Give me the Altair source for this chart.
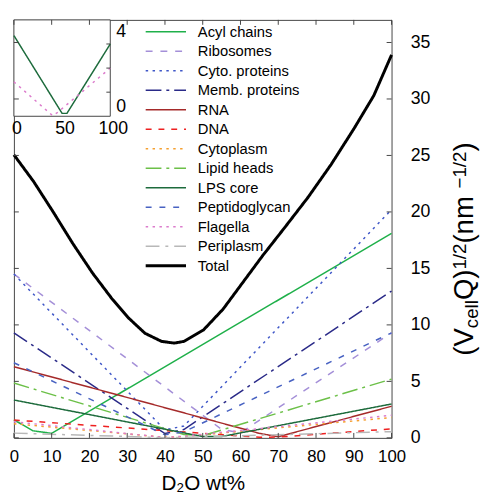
import altair as alt
import pandas as pd

W, H = 384, 425
INSET = 98
FONT = "Liberation Sans"

NAMES = ["Acyl chains", "Ribosomes", "Cyto. proteins", "Memb. proteins", "RNA", "DNA",
         "Cytoplasm", "Lipid heads", "LPS core", "Peptidoglycan", "Flagella", "Periplasm", "Total"]
COLORS = ["#1fb04a", "#a48fd8", "#3f57c8", "#2a2a88", "#a52a2a", "#ee2020",
          "#f5a030", "#6cc048", "#1d6b3c", "#4862c2", "#dc7ccc", "#b8b8b8", "#000000"]
DASHES = [[1, 0], [7, 8], [2.5, 4.5], [16, 5, 3, 5], [1, 0], [6, 7],
          [2.5, 4.5], [16, 5, 3, 5], [1, 0], [6, 8], [2.5, 4.5], [14, 6, 3, 6], [1, 0]]
WIDTHS = [1.5] * 12 + [3]

# series (D2O wt%, value)
ACYL_X, ACYL_Y = [0, 5, 10, 100], [1.6, 0.63, 0.40, 18.1]
RIBO_X, RIBO_Y = [0, 55, 60, 100], [14.5, 0.75, 0.45, 9.3]
CYTO_X, CYTO_Y = [0, 40, 45, 100], [14.5, 0.7, 1.05, 20.2]
MEMB_X, MEMB_Y = [0, 40, 45, 100], [9.3, 0.38, 0.74, 13.0]
RNA_X, RNA_Y = [0, 65, 70, 100], [6.3, 0.4, 0.1, 2.8]
DNA_X, DNA_Y = [0, 65, 70, 100], [1.58, 0.05, 0.07, 0.8]
CYTOPL_X, CYTOPL_Y = [0, 40, 45, 100], [1.25, 0.05, 0.12, 1.8]
LIPID_X, LIPID_Y = [0, 45, 50, 100], [4.85, 0.3, 0.2, 5.2]
LPS_X, LPS_Y = [0, 50, 55, 100], [3.35, 0.12, 0.12, 3.0]
PEPT_X, PEPT_Y = [0, 40, 45, 100], [6.65, 0.27, 0.53, 9.3]
FLAG_X, FLAG_Y = [0, 40, 45, 100], [1.43, 0.03, 0.15, 2.0]
PERI_X, PERI_Y = [0, 40, 45, 100], [0.42, 0.02, 0.05, 0.55]
TOTAL_X = [0, 5.2, 10.4, 15.6, 20.8, 26.0, 30.4, 34.7, 39.1, 42.5, 45, 50.2, 55.4, 60.6,
           65.8, 71.9, 77.9, 84, 90.1, 95.3, 100]
TOTAL_Y = [25.06, 22.7, 20.0, 17.2, 14.6, 12.3, 10.6, 9.26, 8.54, 8.39, 8.54, 9.55, 11.4, 13.75,
           16.1, 18.7, 21.3, 24.2, 27.4, 30.3, 33.9]

X_TICKS = list(range(0, 101, 10))
Y_TICKS = list(range(0, 36, 5))
INSET_X_LABELS = [0, 50, 100]
INSET_Y_TICKS = [1, 2, 3]

SERIES = [(ACYL_X, ACYL_Y), (RIBO_X, RIBO_Y), (CYTO_X, CYTO_Y), (MEMB_X, MEMB_Y), (RNA_X, RNA_Y),
          (DNA_X, DNA_Y), (CYTOPL_X, CYTOPL_Y), (LIPID_X, LIPID_Y), (LPS_X, LPS_Y),
          (PEPT_X, PEPT_Y), (FLAG_X, FLAG_Y), (PERI_X, PERI_Y), (TOTAL_X, TOTAL_Y)]

rows = []
for k, (name, (xs, ys)) in enumerate(zip(NAMES, SERIES)):
    for x, y in zip(xs, ys):
        rows.append({"name": name, "x": x, "y": y, "w": WIDTHS[k], "k": k})
df = pd.DataFrame(rows)

leg = pd.DataFrame({"name": NAMES, "i": list(range(len(NAMES))), "w": WIDTHS})
leg["py"] = 12 + leg["i"] * 19.83

xs_main = alt.Scale(domain=[0, 100])
ys_main = alt.Scale(domain=[0, 37])
xs_in = alt.Scale(domain=[0, 100], range=[0, INSET])
ys_in = alt.Scale(domain=[0, 4], range=[INSET, 0])
color = alt.Color("name:N", scale=alt.Scale(domain=NAMES, range=COLORS), legend=None)
dash = alt.StrokeDash("name:N", scale=alt.Scale(domain=NAMES, range=DASHES), legend=None)
width = alt.StrokeWidth("w:Q", scale=None)

lines = alt.Chart(df).mark_line().encode(
    x=alt.X("x:Q", scale=xs_main, axis=alt.Axis(
        values=X_TICKS, labelFontSize=17, labelFont=FONT, labelColor="black", ticks=False,
        tickSize=0, domain=False, grid=False, labelPadding=11, labelFlush=False,
        title="D₂O wt%", titleFont=FONT, titleFontSize=21, titleFontWeight="normal",
        titleColor="black", titlePadding=9)),
    y=alt.Y("y:Q", scale=ys_main, axis=alt.Axis(
        orient="right", values=Y_TICKS, labelFontSize=18, labelFont=FONT, labelColor="black",
        labelAlign="left", labelBaseline="middle", labelPadding=19, ticks=False, tickSize=0,
        domain=False, grid=False, title=None, labelFlush=False)),
    color=color, strokeDash=dash, strokeWidth=width, detail="name:N",
)

legend_rules = alt.Chart(leg).mark_rule().encode(
    x=alt.value(134), x2=alt.value(175),
    y=alt.Y("py:Q", scale=None), color=color, strokeDash=dash, strokeWidth=width,
)
legend_text = alt.Chart(leg).mark_text(align="left", baseline="middle", font=FONT,
                                        fontSize=15, color="black").encode(
    x=alt.value(187), y=alt.Y("py:Q", scale=None), text="name:N",
)

inset_box = alt.Chart(pd.DataFrame({"a": [0]})).mark_rect(
    fill="white", stroke="#444", strokeWidth=1).encode(
    x=alt.value(0), x2=alt.value(INSET), y=alt.value(0), y2=alt.value(INSET))

inset_lines = alt.Chart(df[df["name"].isin(["LPS core", "Flagella"])]).mark_line().encode(
    x=alt.X("x:Q", scale=xs_in, axis=None),
    y=alt.Y("y:Q", scale=ys_in, axis=None),
    color=color, strokeDash=dash, strokeWidth=width, detail="name:N",
)
inset_ticks = alt.Chart(pd.DataFrame({"v": INSET_Y_TICKS})).mark_rule(color="#444").encode(
    y=alt.Y("v:Q", scale=ys_in, axis=None), x=alt.value(INSET - 4), x2=alt.value(INSET))
inset_xlab = alt.Chart(pd.DataFrame({"v": INSET_X_LABELS})).mark_text(
    baseline="top", align="center", dx=3, font=FONT, fontSize=18, color="black").encode(
    x=alt.X("v:Q", scale=xs_in, axis=None), y=alt.value(INSET + 4), text="v:Q")
inset_ylab_top = alt.Chart(pd.DataFrame({"v": [4]})).mark_text(
    baseline="top", align="left", dy=3, font=FONT, fontSize=18, color="black").encode(
    y=alt.Y("v:Q", scale=ys_in, axis=None), x=alt.value(INSET + 6), text="v:Q")
inset_ylab_bot = alt.Chart(pd.DataFrame({"v": [0]})).mark_text(
    baseline="alphabetic", align="left", dy=-4, font=FONT, fontSize=18, color="black").encode(
    y=alt.Y("v:Q", scale=ys_in, axis=None), x=alt.value(INSET + 6), text="v:Q")

xt = pd.DataFrame({"v": X_TICKS})
yt = pd.DataFrame({"v": Y_TICKS})
tick_b = alt.Chart(xt).mark_rule(color="#444").encode(
    x=alt.X("v:Q", scale=xs_main, axis=None), y=alt.value(H), y2=alt.value(H - 5))
tick_t = alt.Chart(xt).mark_rule(color="#444").encode(
    x=alt.X("v:Q", scale=xs_main, axis=None), y=alt.value(0), y2=alt.value(5))
tick_r = alt.Chart(yt).mark_rule(color="#444").encode(
    y=alt.Y("v:Q", scale=ys_main, axis=None), x=alt.value(W), x2=alt.value(W - 5))
tick_l = alt.Chart(yt).mark_rule(color="#444").encode(
    y=alt.Y("v:Q", scale=ys_main, axis=None), x=alt.value(0), x2=alt.value(5))

# rotated y title built from pieces (main text, subscripts, superscripts)
pieces = [("(V", 28, 0, 1.0), ("cell", 19, 5, 1.5), ("Q)", 28, 0, 1.111), ("1/2", 19, -7, 1.39),
          (" (nm", 28, 0, 2.0), ("−1/2", 19, -7, 1.974), (")", 28, 0, 0.333)]
total_len = sum(fs * em for _, fs, _, em in pieces)
cur = 233 + total_len / 2
prow = []
for t, fs, shift, em in pieces:
    prow.append({"t": t, "fs": fs, "px": 467 + shift, "py": cur})
    cur -= fs * em
ytitle = alt.Chart(pd.DataFrame(prow)).mark_text(
    angle=270, align="left", baseline="alphabetic", font=FONT, color="black").encode(
    x=alt.X("px:Q", scale=None), y=alt.Y("py:Q", scale=None),
    size=alt.Size("fs:Q", scale=None), text="t:N")

chart = alt.layer(
    lines, legend_rules, legend_text, inset_box, inset_lines, inset_ticks,
    tick_b, tick_t, tick_r, tick_l, inset_xlab, inset_ylab_top, inset_ylab_bot, ytitle,
).resolve_scale(x="independent", y="independent").properties(
    width=W, height=H,
    autosize=alt.AutoSizeParams(type="none"),
    padding={"left": 6, "top": 8, "right": 94, "bottom": 54},
).configure_view(stroke="#444", strokeWidth=1)

chart.save("out.html", embed_options={"renderer": "svg", "actions": False})
